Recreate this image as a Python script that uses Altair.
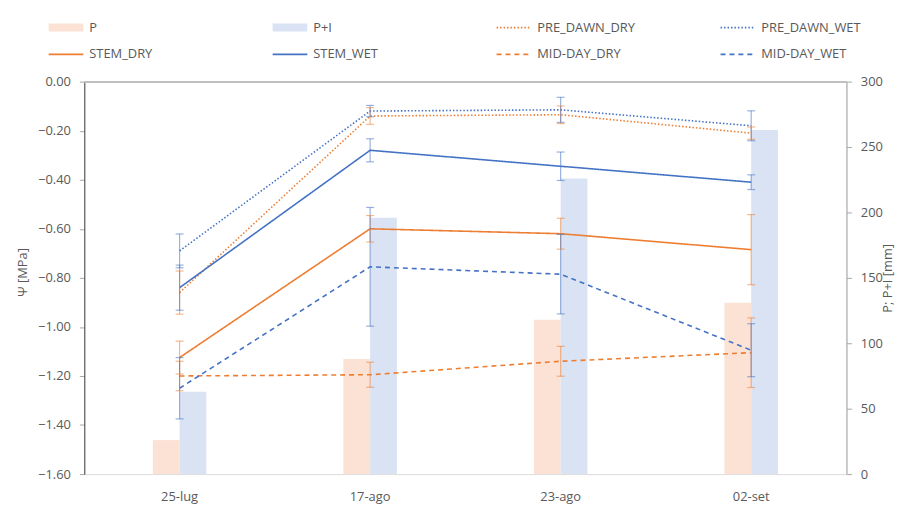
import altair as alt
import pandas as pd

# ---------------- data ----------------
categories = ["25-lug", "17-ago", "23-ago", "02-set"]

p_mm = [26, 88, 118, 131]
pi_mm = [63, 196, 226, 263]

series_names = ["PRE_DAWN_DRY", "PRE_DAWN_WET", "STEM_DRY", "STEM_WET",
                "MID-DAY_DRY", "MID-DAY_WET"]

pre_dawn_dry = [-0.86, -0.14, -0.135, -0.21]
pre_dawn_wet = [-0.69, -0.12, -0.115, -0.18]
stem_dry = [-1.125, -0.60, -0.62, -0.685]
stem_wet = [-0.84, -0.28, -0.345, -0.41]
mid_day_dry = [-1.20, -1.195, -1.14, -1.105]
mid_day_wet = [-1.25, -0.755, -0.785, -1.095]

err_pre_dawn_dry = [0.088, 0.034, 0.036, 0.025]
err_pre_dawn_wet = [0.069, 0.023, 0.051, 0.061]
err_stem_dry = [0.067, 0.054, 0.063, 0.143]
err_stem_wet = [0.092, 0.047, 0.058, 0.030]
err_mid_day_dry = [0.060, 0.051, 0.061, 0.142]
err_mid_day_wet = [0.125, 0.242, 0.162, 0.108]

series_values = [pre_dawn_dry, pre_dawn_wet, stem_dry, stem_wet, mid_day_dry, mid_day_wet]
series_errors = [err_pre_dawn_dry, err_pre_dawn_wet, err_stem_dry, err_stem_wet,
                 err_mid_day_dry, err_mid_day_wet]

ORANGE = "#ED7D31"
BLUE = "#4472C4"
bar_names = ["P", "P+I"]
bar_colors = ["#FBE2D5", "#DAE3F3"]
line_colors = [ORANGE, BLUE, ORANGE, BLUE, ORANGE, BLUE]
line_dashes = [[1.5, 2], [1.5, 2], [1, 0], [1, 0], [5, 4], [5, 4]]

# ---------------- tables ----------------
bars_df = pd.DataFrame(
    [{"cat": c, "series": "P", "mm": v} for c, v in zip(categories, p_mm)]
    + [{"cat": c, "series": "P+I", "mm": v} for c, v in zip(categories, pi_mm)]
)
rows = []
for name, vals, errs in zip(series_names, series_values, series_errors):
    for c, v, e in zip(categories, vals, errs):
        rows.append({"cat": c, "series": name, "val": v, "lo": v - e, "hi": v + e})
lines_df = pd.DataFrame(rows)

FONT = "Open Sans"
TXT = "#595959"

x_enc = alt.X(
    "cat:N", sort=categories,
    scale=alt.Scale(domain=categories, paddingInner=0, paddingOuter=0),
    axis=alt.Axis(orient="bottom", title=None, domain=False, ticks=False,
                  labelAngle=0, labelPadding=17, labelFontSize=13,
                  labelColor=TXT, labelFont=FONT),
)

# colour scale domain listed in a different order than the dash scale so the
# (disabled) colour legend is not merged with the dash legend
color_scale = alt.Scale(domain=series_names + bar_names,
                        range=line_colors + bar_colors)
dash_scale = alt.Scale(domain=bar_names + series_names,
                       range=[[1, 0], [1, 0]] + line_dashes)

is_bar = "(datum.value == 'P' || datum.value == 'P+I')"
legend = alt.Legend(
    title=None, orient="none", legendX=-37, legendY=-62,
    direction="horizontal", columns=4, gridAlign="all",
    columnPadding=83, rowPadding=12, clipHeight=15,
    symbolSize=1225, symbolStrokeWidth=1.6, labelOffset=5, symbolOpacity=1,
    symbolType={"expr": is_bar + " ? 'M-1,-0.23H1V0.23H-1Z' : 'stroke'"},
    symbolFillColor={"expr": is_bar + " ? scale('color', datum.value) : 'transparent'"},
    symbolStrokeColor={"expr": is_bar + " ? 'transparent' : scale('color', datum.value)"},
    labelFontSize=13, labelColor=TXT, labelFont=FONT, labelLimit=200,
)
color_enc = alt.Color("series:N", scale=color_scale, legend=None)

left_scale = alt.Scale(domain=[-1.6, 0], nice=False, zero=False)
left_axis = alt.Axis(
    orient="left", values=[-1.6, -1.4, -1.2, -1.0, -0.8, -0.6, -0.4, -0.2, 0.0],
    format=".2f", grid=False, tickSize=5, tickColor="#A6A6A6",
    domainColor="#404040", labelPadding=9, labelFontSize=13, labelColor=TXT,
    labelFont=FONT, title="Ψ [MPa]", titleX=-62, titleY=192, titleAngle=270,
    titleAlign="center", titleBaseline="middle", titleFontWeight="normal",
    titleFontSize=13, titleColor=TXT, titleFont=FONT,
)
right_scale = alt.Scale(domain=[0, 300], nice=False)
right_axis = alt.Axis(
    orient="right", values=[0, 50, 100, 150, 200, 250, 300], grid=False,
    tickSize=5, tickColor="#A6A6A6", domainColor="#A6A6A6", labelPadding=9,
    labelFontSize=13, labelColor=TXT, labelFont=FONT,
    title="P; P+I [mm]", titleX=41, titleY=198, titleAngle=270,
    titleAlign="center", titleBaseline="middle", titleFontWeight="normal",
    titleFontSize=13, titleColor=TXT, titleFont=FONT,
)

# ---------------- bars (right axis) ----------------
bar_base = alt.Chart(bars_df)
bar_p = bar_base.transform_filter("datum.series == 'P'").mark_bar(
    width=27, xOffset=-13.5).encode(
    x=x_enc, y=alt.Y("mm:Q", scale=right_scale, axis=right_axis), color=color_enc)
bar_pi = bar_base.transform_filter("datum.series == 'P+I'").mark_bar(
    width=27, xOffset=13.5).encode(
    x=x_enc, y=alt.Y("mm:Q", scale=right_scale, axis=right_axis), color=color_enc)
bars = alt.layer(bar_p, bar_pi)

# ---------------- lines (left axis) ----------------
base = alt.Chart(lines_df)
top_rule = alt.Chart(lines_df).mark_rule(color="#BFBFBF", strokeWidth=1.2).encode(
    y=alt.YDatum(0, type="quantitative", scale=left_scale, axis=left_axis))
lines = base.mark_line(strokeWidth=1.6).encode(
    x=x_enc,
    y=alt.Y("val:Q", scale=left_scale, axis=left_axis),
    color=color_enc,
    strokeDash=alt.StrokeDash("series:N", scale=dash_scale, legend=legend),
    detail="series:N",
)
err_rules = base.mark_rule(strokeWidth=1.2, opacity=0.55).encode(
    x=x_enc,
    y=alt.Y("lo:Q", scale=left_scale, axis=left_axis),
    y2="hi:Q",
    color=color_enc,
)
cap_lo = base.mark_tick(size=8, thickness=1.2, opacity=0.55).encode(
    x=x_enc, y=alt.Y("lo:Q", scale=left_scale, axis=left_axis), color=color_enc)
cap_hi = base.mark_tick(size=8, thickness=1.2, opacity=0.55).encode(
    x=x_enc, y=alt.Y("hi:Q", scale=left_scale, axis=left_axis), color=color_enc)
left_group = alt.layer(top_rule, lines, err_rules, cap_lo, cap_hi)

chart = alt.layer(bars, left_group).resolve_scale(y="independent").properties(
    width=769, height=396,
    autosize=alt.AutoSizeParams(type="none"),
    padding={"left": 77, "top": 72, "right": 51, "bottom": 40},
).configure_view(stroke=None).configure(font=FONT)

chart.save("out.html", embed_options={"renderer": "svg", "actions": False})
